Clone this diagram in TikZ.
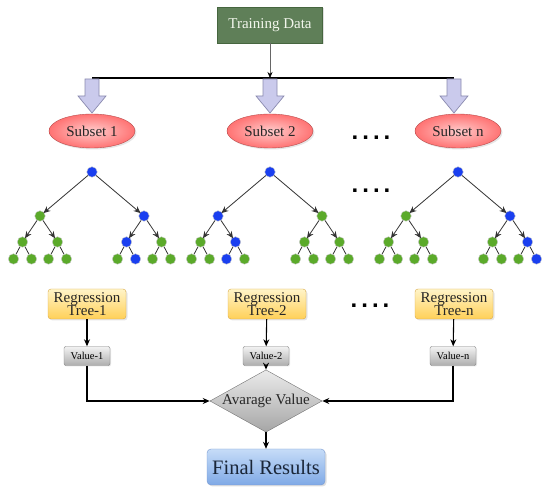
\documentclass[tikz,border=0pt]{standalone}
\usepackage{fontspec}
\setmainfont{Liberation Serif}
\newfontfamily\dotfont{Liberation Sans}
\usetikzlibrary{shapes.geometric,arrows.meta,shadows}
\definecolor{tdfill}{HTML}{5F7F58}
\definecolor{tddraw}{HTML}{46663F}
\definecolor{tdtext}{HTML}{F2F6EC}
\definecolor{treeb}{HTML}{1A3FF0}
\definecolor{treeg}{HTML}{5BAA2A}
\definecolor{blockfill}{HTML}{CACAEC}
\definecolor{blockdraw}{HTML}{8A8AAE}
\definecolor{regtop}{HTML}{FFF4C8}
\definecolor{regbot}{HTML}{FFD058}
\definecolor{regdraw}{HTML}{D8A848}
\definecolor{fintop}{HTML}{C6DCF8}
\definecolor{finbot}{HTML}{7FA9E6}
\definecolor{findraw}{HTML}{7A9AD0}
\definecolor{fintext}{HTML}{1A2638}
\newcommand\drawtree[3]{%
  \foreach \c [count=\k from 0] in {#3}{%
    \pgfmathsetmacro\dx{{0,-52,52,-69.5,-34.5,34.5,69.5,-78.5,-60.5,-43.5,-25.5,25.5,43.5,60.5,78.5}[\k]}%
    \pgfmathsetmacro\yy{{172,216,216,242,242,242,242,259,259,259,259,259,259,259,259}[\k]}%
    \node[treedot, fill=tree\c] (#1\k) at (#2+\dx,\yy) {};
  }
  \foreach \p/\q in {0/1,0/2,1/3,1/4,2/5,2/6} \draw[treearr] (#1\p) -- (#1\q);
  \foreach \p/\q in {3/7,3/8,4/9,4/10,5/11,5/12,6/13,6/14} \draw[treeln] (#1\p) -- (#1\q);
}
\begin{document}
\begin{tikzpicture}[x=1pt,y=-1pt,
  tdbox/.style={draw=tddraw, fill=tdfill, text=tdtext, minimum width=105, minimum height=36, inner sep=0, font=\fontsize{15}{16}\selectfont,
    drop shadow={opacity=0.25, shadow xshift=1.5pt, shadow yshift=-1.5pt}},
  subset/.style={ellipse, draw=red!60!black!70, inner color=red!20, outer color=red!55!white, minimum width=86, minimum height=34, inner sep=0,
    font=\fontsize{15}{16}\selectfont, text=black!85, drop shadow={opacity=0.2, shadow xshift=1.5pt, shadow yshift=-1.5pt}},
  regbox/.style={draw=regdraw, rounded corners=3, top color=regtop, bottom color=regbot, minimum width=78, minimum height=30,
    inner sep=0, align=center, text=black!85, font=\fontsize{15}{13.5}\selectfont, drop shadow={opacity=0.2, shadow xshift=1.5pt, shadow yshift=-1.5pt}},
  valbox/.style={draw=black!50, rounded corners=2, top color=black!5, bottom color=black!32, minimum width=46, minimum height=19, inner sep=0,
    font=\fontsize{10.5}{12}\selectfont, drop shadow={opacity=0.2, shadow xshift=1pt, shadow yshift=-1pt}},
  diam/.style={diamond, draw=black!55, top color=black!8, bottom color=black!35, minimum width=110, minimum height=61, inner sep=0, aspect=1.8,
    font=\fontsize{15}{16}\selectfont, text=black!85},
  finalbox/.style={draw=findraw, rounded corners=4, top color=fintop, bottom color=finbot, text=fintext, minimum width=118, minimum height=36,
    inner sep=0, font=\fontsize{20.5}{22}\selectfont, drop shadow={opacity=0.25, shadow xshift=1.5pt, shadow yshift=-1.5pt}},
  treedot/.style={circle, inner sep=0, minimum size=10.5, draw=black!20},
  treearr/.style={draw=black!80, line width=0.8pt, -{Stealth[length=7pt,width=6pt]}, shorten >=-1pt},
  treeln/.style={draw=black!80, line width=0.8pt},
  bus/.style={line width=1.6pt, black},
  blockarr/.style={fill=blockfill, draw=blockdraw, line width=0.7pt},
  flow/.style={line width=1.5pt, black, -{Stealth[length=7pt,width=6pt]}},
  thinarr/.style={line width=0.6pt, black!60, -{Stealth[length=6pt,width=5pt,color=black]}},
  dotrow/.style={inner sep=0, font=\dotfont\bfseries\fontsize{24}{24}\selectfont}
]
\useasboundingbox (0,0) rectangle (550,497);

% top
\node[tdbox] (td) at (270,25) {Training Data};
\coordinate (b1) at (92,78);
\coordinate (b2) at (270,78);
\coordinate (b3) at (454,78);
\draw[bus] (b1) -- (b3);
\draw[thinarr] (td) -- (b2);
\foreach \b in {b1,b2,b3}{
  \draw[blockarr] (\b) ++(-7,1) -- ++(0,17) -- ++(-7,0) -- ++(14,35-18) -- ++(14,-17) -- ++(-7,0) -- ++(0,-17) -- cycle;
}

% subsets
\node[subset] (s1) at (92,131) {Subset 1};
\node[subset] (s2) at (270,131) {Subset 2};
\node[subset] (sn) at (458,131) {Subset n};
\node[dotrow] (d1) at (371,138) {.\kern4pt.\kern4pt.\kern4pt.};

% trees
\drawtree{A}{92}{b,g,b,g,g,b,g,g,g,g,g,g,b,g,g}
\drawtree{B}{270}{b,b,g,g,b,g,g,g,g,b,g,g,g,g,g}
\drawtree{C}{458}{b,g,b,g,g,g,b,g,g,g,g,g,g,g,b}
\node[dotrow] (d2) at (371,191) {.\kern4pt.\kern4pt.\kern4pt.};

% regression
\node[regbox] (r1) at (87,304) {Regression\\Tree-1};
\node[regbox] (r2) at (267,304) {Regression\\Tree-2};
\node[regbox] (rn) at (454,304) {Regression\\Tree-n};
\node[dotrow] (d3) at (370,306) {.\kern4pt.\kern4pt.\kern4pt.};

\node[valbox] (v1) at (87,356) {Value-1};
\node[valbox] (v2) at (266,356) {Value-2};
\node[valbox] (vn) at (453,356) {Value-n};
\foreach \r/\v in {r1/v1,r2/v2,rn/vn} \draw[flow, line width=1.1pt] (\r) -- (\v);

\node[diam] (dia) at (266,401) {Avarage Value};
\draw[flow] (v2) -- (dia);
\draw[flow] (v1.south) |- (dia.west);
\draw[flow] (vn.south) |- (dia.east);

\node[finalbox] (fin) at (266,467) {Final Results};
\draw[flow, line width=1.1pt] (dia) -- (fin);
\end{tikzpicture}
\end{document}
